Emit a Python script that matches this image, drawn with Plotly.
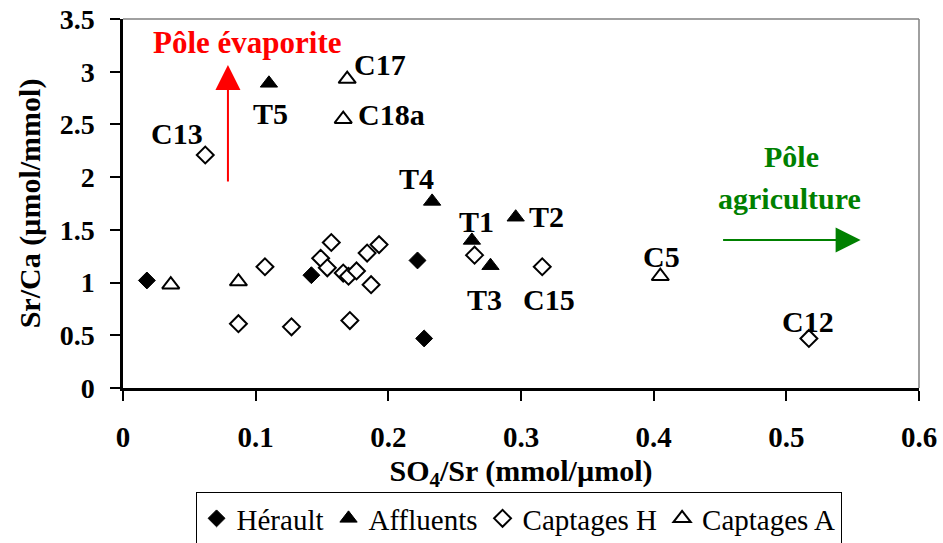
import plotly.graph_objects as go

# Data
herault_x = [0.018, 0.142, 0.222, 0.227]
herault_y = [1.02, 1.07, 1.21, 0.47]

affl_x = [0.110, 0.233, 0.263, 0.296, 0.277]
affl_y = [2.89, 1.77, 1.40, 1.62, 1.16]

captH_x = [0.062, 0.107, 0.087, 0.127, 0.157, 0.149, 0.154, 0.166, 0.170,
           0.176, 0.184, 0.193, 0.187, 0.171, 0.265, 0.316, 0.517]
captH_y = [2.21, 1.15, 0.61, 0.58, 1.38, 1.23, 1.14, 1.09, 1.06,
           1.11, 1.28, 1.36, 0.98, 0.64, 1.26, 1.15, 0.47]

captA_x = [0.036, 0.087, 0.169, 0.166, 0.405]
captA_y = [0.98, 1.01, 2.93, 2.55, 1.06]

label_text = ["C13", "T5", "C17", "C18a", "T4", "T1", "T2", "T3", "C15", "C5", "C12"]
label_x = [0.0405, 0.1113, 0.1937, 0.2027, 0.2216, 0.2665, 0.3193, 0.2723, 0.3213, 0.406, 0.5164]
label_y = [2.417, 2.606, 3.064, 2.590, 1.983, 1.578, 1.625, 0.835, 0.835, 1.246, 0.629]

series_names = ["Hérault", "Affluents", "Captages H", "Captages A"]

FONT = "Liberation Serif, Times New Roman, serif"

fig = go.Figure()
fig.add_trace(go.Scatter(x=herault_x, y=herault_y, mode="markers", name=series_names[0],
                         marker=dict(symbol="diamond", size=13, color="black",
                                     line=dict(color="black", width=1))))
fig.add_trace(go.Scatter(x=captH_x, y=captH_y, mode="markers", name=series_names[2],
                         marker=dict(symbol="diamond", size=13, color="white",
                                     line=dict(color="black", width=2))))
fig.add_trace(go.Scatter(x=affl_x, y=affl_y, mode="markers", name=series_names[1],
                         marker=dict(symbol="triangle-up", size=15, color="black",
                                     line=dict(color="black", width=1))))
fig.add_trace(go.Scatter(x=captA_x, y=captA_y, mode="markers", name=series_names[3],
                         marker=dict(symbol="triangle-up", size=15, color="white",
                                     line=dict(color="black", width=2))))

annotations = []
for t, x, y in zip(label_text, label_x, label_y):
    annotations.append(dict(x=x, y=y, xref="x", yref="y", text=f"<b>{t}</b>",
                            showarrow=False, font=dict(family=FONT, size=30, color="black")))

# Poles
annotations.append(dict(x=0.0942, y=3.273, xref="x", yref="y", text="<b>Pôle évaporite</b>",
                        showarrow=False, font=dict(family=FONT, size=31, color="#FF0000")))
annotations.append(dict(x=0.0791, y=3.064, ax=0.0791, ay=1.945, xref="x", yref="y",
                        axref="x", ayref="y", text="", showarrow=True,
                        arrowhead=2, arrowsize=2.5, arrowwidth=2, arrowcolor="#FF0000"))
annotations.append(dict(x=0.5039, y=2.194, xref="x", yref="y", text="<b>Pôle</b>",
                        showarrow=False, font=dict(family=FONT, size=30, color="#008000")))
annotations.append(dict(x=0.5026, y=1.80, xref="x", yref="y", text="<b>agriculture</b>",
                        showarrow=False, font=dict(family=FONT, size=30, color="#008000")))
annotations.append(dict(x=0.556, y=1.404, ax=0.4512, ay=1.404, xref="x", yref="y",
                        axref="x", ayref="y", text="", showarrow=True,
                        arrowhead=2, arrowsize=2.5, arrowwidth=2, arrowcolor="#008000"))

fig.update_layout(
    width=943, height=543,
    margin=dict(l=123, r=24, t=19, b=155, autoexpand=False),
    paper_bgcolor="white", plot_bgcolor="white",
    font=dict(family=FONT, color="black"),
    annotations=annotations,
    showlegend=True,
    legend=dict(orientation="h", xref="container", yref="container",
                x=0.5499, xanchor="center", y=0.0939, yanchor="top",
                bordercolor="black", borderwidth=1, bgcolor="white",
                font=dict(family=FONT, size=29, color="black"),
                traceorder="normal", itemwidth=30),
    shapes=[
        dict(type="line", xref="paper", yref="paper", x0=0, x1=1, y0=1, y1=1,
             line=dict(color="#808080", width=1.5)),
        dict(type="line", xref="paper", yref="paper", x0=1, x1=1, y0=0, y1=1,
             line=dict(color="#808080", width=1.5)),
    ],
)

fig.update_xaxes(range=[0, 0.6], dtick=0.1, tick0=0, showgrid=False, zeroline=False,
                 automargin=False,
                 showline=True, linecolor="black", linewidth=2.5,
                 ticks="outside", ticklen=10, tickwidth=1.5, tickcolor="black",
                 tickfont=dict(family=FONT, size=29, color="black", weight="bold"),
                 ticklabelstandoff=11,
                 title=dict(text="<b>SO<sub>4</sub>/Sr (mmol/µmol)</b>",
                            font=dict(family=FONT, size=30, color="black"), standoff=9))
fig.update_yaxes(range=[0, 3.5], dtick=0.5, tick0=0, showgrid=False, zeroline=False,
                 automargin=False,
                 showline=True, linecolor="black", linewidth=2.5,
                 ticks="outside", ticklen=10, tickwidth=1.5, tickcolor="black",
                 tickfont=dict(family=FONT, size=28, color="black", weight="bold"),
                 ticklabelstandoff=10,
                 title=dict(text="<b>Sr/Ca (µmol/mmol)</b>",
                            font=dict(family=FONT, size=30, color="black"), standoff=11))

# reorder legend entries to match reference
for tr in fig.data:
    tr.legendrank = series_names.index(tr.name)

fig.write_html("out.html", config={"displayModeBar": False},
               post_script="document.body.style.margin='0px';")
